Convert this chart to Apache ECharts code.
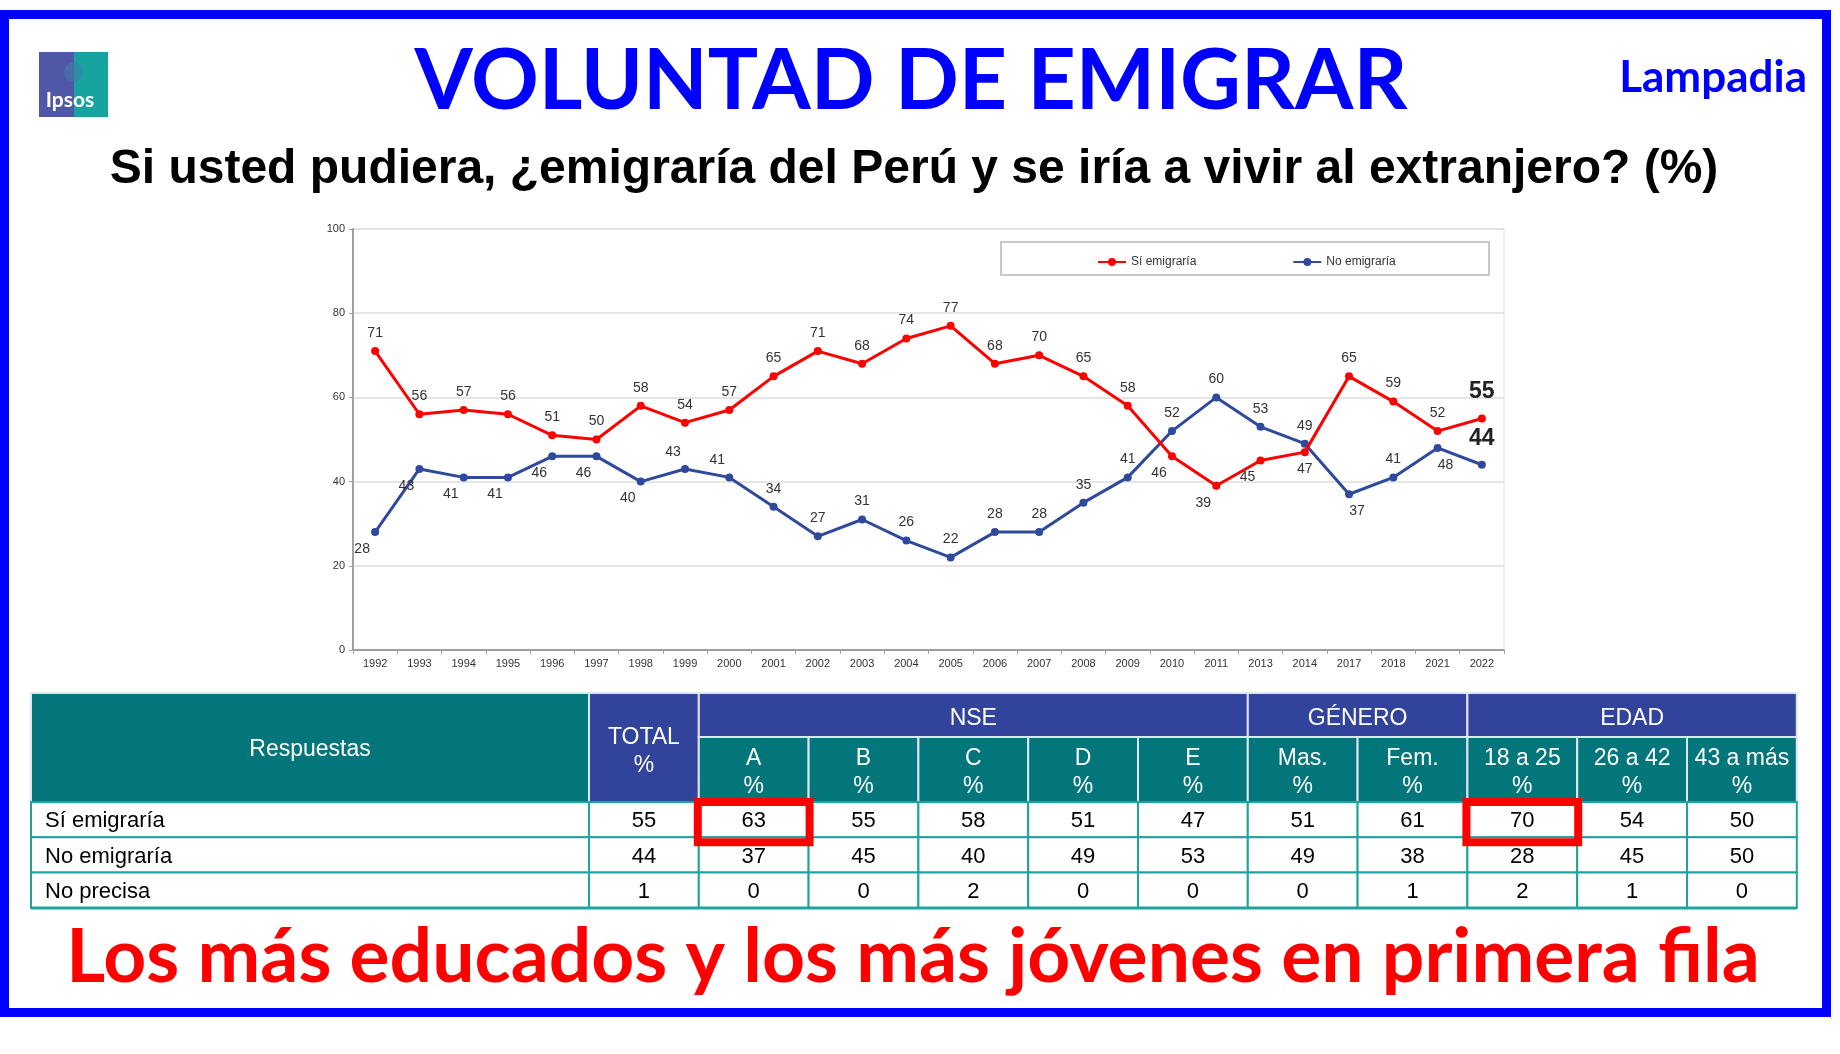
<!DOCTYPE html>
<html><head><meta charset="utf-8">
<script src="https://cdn.jsdelivr.net/npm/echarts@6/dist/echarts.min.js"></script>
<style>html,body{margin:0;padding:0;background:#fff}#c{width:1840px;height:1054px}</style>
</head><body><div id="c"></div>
<script>
// ---------- DATA ----------
const years = ['1992','1993','1994','1995','1996','1997','1998','1999','2000','2001','2002','2003','2004','2005','2006','2007','2008','2009','2010','2011','2013','2014','2017','2018','2021','2022'];
const siEmigraria = [71,56,57,56,51,50,58,54,57,65,71,68,74,77,68,70,65,58,46,39,45,47,65,59,52,55];
const noEmigraria = [28,43,41,41,46,46,40,43,41,34,27,31,26,22,28,28,35,41,52,60,53,49,37,41,48,44];
const yTicks = [0,20,40,60,80,100];
const seriesNames = ['Sí emigraría','No emigraría'];

// label placement codes per point (t=top, b=bottom, bl=bottom-left, tl=top-left, br=bottom-right, big=highlighted)
const siLabelPlace = ['t','t','t','t','t','t','t','t','t','t','t','t','t','t','t','t','t','t','bl','bl','bl','b','t','t','t','big'];
const noLabelPlace = ['bl','bl','bl','bl','bl','bl','bl','tl','tl','t','t','t','t','t','t','t','t','t','t','t','t','t','br','t','br','big'];

// table
const tableGroups = ['NSE','GÉNERO','EDAD'];
const tableGroupSpans = [5,2,3];
const subHeaders = ['A','B','C','D','E','Mas.','Fem.','18 a 25','26 a 42','43 a más'];
const rowLabels = ['Sí emigraría','No emigraría','No precisa'];
const totalCol = [55,44,1];
const rowSi = [63,55,58,51,47,51,61,70,54,50];
const rowNo = [37,45,40,49,53,49,38,28,45,50];
const rowNoPrecisa = [0,0,2,0,0,0,1,2,1,0];
const highlightCells = [[0,0],[0,7]]; // [row, subcolumn]

const mainTitle = 'VOLUNTAD DE EMIGRAR';
const subTitle = 'Si usted pudiera, ¿emigraría del Perú y se iría a vivir al extranjero? (%)';
const footTitle = 'Los más educados y los más jóvenes en primera fila';
const brand = 'Lampadia';

// ---------- STYLE ----------
const RED = '#ff0000', BLUE = '#2f4a9c';
const LBL = 'Liberation Sans, Arial, sans-serif';

function placeLabel(code) {
  const base = {show:true, fontSize:14, color:'#333', fontFamily:LBL};
  switch(code){
    case 't': return Object.assign(base,{position:'top',distance:7});
    case 'b': return Object.assign(base,{position:'bottom',distance:6});
    case 'bl': return Object.assign(base,{position:'bottom',distance:6,offset:[-13,0]});
    case 'tl': return Object.assign(base,{position:'top',distance:6,offset:[-12,0]});
    case 'br': return Object.assign(base,{position:'bottom',distance:6,offset:[8,0]});
    case 'big': return Object.assign(base,{position:'top',distance:11,fontSize:23,fontWeight:'bold',color:'#222'});
  }
  return base;
}
function buildData(vals, places){
  return vals.map((v,i)=>({value:v, label:placeLabel(places[i])}));
}

// ---------- TABLE LAYOUT ----------
const T_LEFT = 31, FIRST_W = 558, COL_W = 109.8, T_TOP = 693;
const H1 = 44, H2 = 65, RH = 35.3;
const TEAL = '#03767b', HBLUE = '#31439b', GRID = '#1ea49e';
const g = [];
// frame
g.push({type:'rect', shape:{x:4.5,y:14.5,width:1822,height:998}, style:{fill:'none',stroke:'#0000ff',lineWidth:9}});
// logo
g.push({type:'rect', shape:{x:39,y:52,width:35,height:65}, style:{fill:'#5157a7'}});
g.push({type:'rect', shape:{x:74,y:52,width:34,height:65}, style:{fill:'#17a4a0'}});
g.push({type:'circle', shape:{cx:74,cy:72,r:10}, style:{fill:'#3f7fa8',opacity:0.6}});
g.push({type:'text', x:70, y:100, style:{text:'Ipsos', fill:'#fff', font:'bold 21px Lato, sans-serif', align:'center', verticalAlign:'middle'}});
// titles
g.push({type:'text', x:911, y:82, style:{text:mainTitle, fill:'#0000ff', font:'bold 84px Lato, sans-serif', align:'center', verticalAlign:'middle'}});
g.push({type:'text', x:1807, y:78, style:{text:brand, fill:'#0000ff', font:'bold 44px Lato, sans-serif', align:'right', verticalAlign:'middle'}});
g.push({type:'text', x:914, y:170, style:{text:subTitle, fill:'#000', font:'bold 48px Liberation Sans, Arial, sans-serif', align:'center', verticalAlign:'middle'}});
g.push({type:'text', x:913, y:958, style:{text:footTitle, fill:'#ff0000', font:'bold 75px Lato, sans-serif', align:'center', verticalAlign:'middle'}});
// legend box
g.push({type:'rect', shape:{x:1001,y:242,width:488,height:33}, style:{fill:'none',stroke:'#c8c8c8',lineWidth:2}});

// table header
const hdrFont = '23px Liberation Sans, Arial, sans-serif';
const bodyFont = '22px Liberation Sans, Arial, sans-serif';
const hdrStroke = {stroke:'#dfe6ee', lineWidth:2};
const colX = i => T_LEFT + FIRST_W + COL_W*(i+1); // subcolumn i left edge
g.push({type:'rect', shape:{x:T_LEFT,y:T_TOP,width:FIRST_W,height:H1+H2}, style:Object.assign({fill:TEAL},hdrStroke)});
g.push({type:'text', x:T_LEFT+FIRST_W/2, y:T_TOP+(H1+H2)/2+2, style:{text:'Respuestas', fill:'#fff', font:hdrFont, align:'center', verticalAlign:'middle'}});
g.push({type:'rect', shape:{x:T_LEFT+FIRST_W,y:T_TOP,width:COL_W,height:H1+H2}, style:Object.assign({fill:HBLUE},hdrStroke)});
g.push({type:'text', x:T_LEFT+FIRST_W+COL_W/2, y:T_TOP+(H1+H2)/2+4, style:{text:'TOTAL\n%', fill:'#fff', font:hdrFont, lineHeight:28, align:'center', verticalAlign:'middle'}});
let start = 0;
tableGroups.forEach((name, gi) => {
  const x = colX(start), w = COL_W*tableGroupSpans[gi];
  g.push({type:'rect', shape:{x:x,y:T_TOP,width:w,height:H1}, style:Object.assign({fill:HBLUE},hdrStroke)});
  g.push({type:'text', x:x+w/2, y:T_TOP+H1/2+4, style:{text:name, fill:'#fff', font:hdrFont, align:'center', verticalAlign:'middle'}});
  start += tableGroupSpans[gi];
});
subHeaders.forEach((s,i)=>{
  const x = colX(i);
  g.push({type:'rect', shape:{x:x,y:T_TOP+H1,width:COL_W,height:H2}, style:Object.assign({fill:TEAL},hdrStroke)});
  g.push({type:'text', x:x+COL_W/2, y:T_TOP+H1+H2/2+3, style:{text:s+'\n%', fill:'#fff', font:hdrFont, lineHeight:28, align:'center', verticalAlign:'middle'}});
});
// body
const bodyRows = [rowSi, rowNo, rowNoPrecisa];
const bodyTop = T_TOP+H1+H2;
rowLabels.forEach((lab, r)=>{
  const y = bodyTop + RH*r;
  g.push({type:'rect', shape:{x:T_LEFT,y:y,width:FIRST_W,height:RH}, style:{fill:'#fff',stroke:GRID,lineWidth:2}});
  g.push({type:'text', x:T_LEFT+14, y:y+RH/2+1.5, style:{text:lab, fill:'#000', font:bodyFont, align:'left', verticalAlign:'middle'}});
  g.push({type:'rect', shape:{x:T_LEFT+FIRST_W,y:y,width:COL_W,height:RH}, style:{fill:'#fff',stroke:GRID,lineWidth:2}});
  g.push({type:'text', x:T_LEFT+FIRST_W+COL_W/2, y:y+RH/2+1.5, style:{text:String(totalCol[r]), fill:'#000', font:bodyFont, align:'center', verticalAlign:'middle'}});
  bodyRows[r].forEach((v,i)=>{
    const x = colX(i);
    g.push({type:'rect', shape:{x:x,y:y,width:COL_W,height:RH}, style:{fill:'#fff',stroke:GRID,lineWidth:2}});
    g.push({type:'text', x:x+COL_W/2, y:y+RH/2+1.5, style:{text:String(v), fill:'#000', font:bodyFont, align:'center', verticalAlign:'middle'}});
  });
});
// bottom thicker border
g.push({type:'line', shape:{x1:T_LEFT,y1:bodyTop+RH*3,x2:colX(9)+COL_W,y2:bodyTop+RH*3}, style:{stroke:GRID,lineWidth:3}});
// highlight boxes
highlightCells.forEach(([r,i])=>{
  const x = colX(i), y = bodyTop + RH*r;
  g.push({type:'rect', z:10, shape:{x:x-1,y:y,width:COL_W+2,height:RH+5}, style:{fill:'none',stroke:'#ff0000',lineWidth:8}});
});

const chart = echarts.init(document.getElementById('c'));
chart.setOption({
  backgroundColor:'#fff',
  animation:false,
  graphic:{elements:g},
  legend:{
    data:seriesNames, left:1092, top:251, itemWidth:28, itemHeight:10, itemGap:96,
    textStyle:{fontSize:12, color:'#333', fontFamily:LBL}
  },
  grid:{left:353, top:229, width:1151, height:421, show:true, borderColor:'#e0e0e0', borderWidth:1},
  xAxis:{
    type:'category', data:years, boundaryGap:true,
    axisLine:{lineStyle:{color:'#a0a0a0',width:2}},
    axisTick:{show:true, alignWithLabel:false, length:4, lineStyle:{color:'#a0a0a0'}},
    axisLabel:{fontSize:11, color:'#333', margin:8, interval:0, fontFamily:LBL}
  },
  yAxis:{
    type:'value', min:yTicks[0], max:yTicks[yTicks.length-1], interval:yTicks[1]-yTicks[0],
    axisLine:{show:true, lineStyle:{color:'#a0a0a0',width:2}},
    axisTick:{show:true, length:4, lineStyle:{color:'#a0a0a0'}},
    axisLabel:{fontSize:11, color:'#333', margin:8, fontFamily:LBL},
    splitLine:{lineStyle:{color:'#dcdcdc', width:1.5}}
  },
  series:[
    {name:seriesNames[0], type:'line', data:buildData(siEmigraria, siLabelPlace), color:RED,
     lineStyle:{width:3, color:RED}, symbol:'circle', symbolSize:8, itemStyle:{color:RED}, z:3},
    {name:seriesNames[1], type:'line', data:buildData(noEmigraria, noLabelPlace), color:BLUE,
     lineStyle:{width:3, color:BLUE}, symbol:'circle', symbolSize:8, itemStyle:{color:BLUE}, z:2}
  ]
});
</script></body></html>
